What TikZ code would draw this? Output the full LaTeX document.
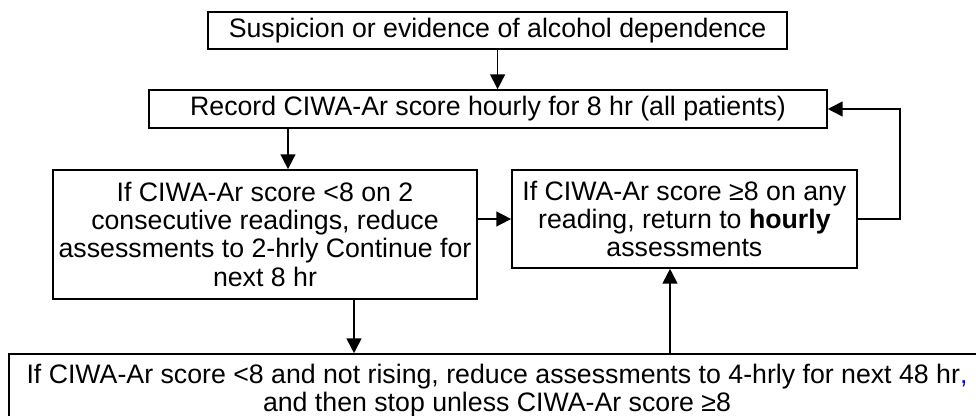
\documentclass[tikz,border=0pt]{standalone}
\usepackage{fontspec}
\setmainfont{Liberation Sans}
\usetikzlibrary{arrows.meta}
\usetikzlibrary{shapes}

\begin{document}
\begin{tikzpicture}
    \tikzstyle{every node}=[font=\fontsize{19}{20}\selectfont]
    \tikzstyle{block} = [rectangle, draw, line width=1.1pt, align=center, inner sep=0pt]
    \tikzstyle{line}  = [draw, line width=1.2pt, -{Triangle[length=3.7mm, width=3.7mm]}]

    \useasboundingbox (0,0) rectangle (24.4,-10.4);

    % Place nodes
    \node [block, minimum width=14.48cm, minimum height=0.93cm] (suspicion) at (12.44,-0.76) {Suspicion or evidence of alcohol dependence};
    \node [block, minimum width=16.95cm, minimum height=0.95cm] (record) at (12.2,-2.725) {Record CIWA-Ar score hourly for 8 hr (all patients)};

    % Two-hourly / back to hourly
    \node [block, minimum width=10.6cm, minimum height=3.225cm] (twohrly) at (6.625,-5.86) {If CIWA-Ar score <8 on 2\\ consecutive readings, reduce\\ assessments to 2-hrly Continue for\\ next 8 hr};
    \node [block, minimum width=8.625cm, minimum height=2.45cm] (hourly) at (17.11,-5.475) {If CIWA-Ar score ≥8 on any\\ reading, return to \textbf{hourly}\\ assessments};

    % Four-hourly
    \node [block, minimum width=24.4cm, minimum height=1.85cm] (fourhrly) at (12.425,-9.775) {If CIWA-Ar score <8 and not rising, reduce assessments to 4-hrly for next 48 hr{\color{blue},}\\ and then stop unless CIWA-Ar score ≥8};

    \path [line] (suspicion) -- (suspicion |- record.north);
    \path [line] ([xshift=0.575cm]twohrly.north |- record.south) -- ([xshift=0.575cm]twohrly.north);
    \path [line] (twohrly.east |- hourly.west) -- (hourly.west);
    \path [line] (hourly.east) -- ++(1.05,0) |- (record.east);
    \path [line] ([xshift=2.225cm]twohrly.south) -- ([xshift=2.225cm]twohrly.south |- fourhrly.north);
    \path [line] ([xshift=-0.36cm]hourly.south |- fourhrly.north) -- ([xshift=-0.36cm]hourly.south);
\end{tikzpicture}
\end{document}
